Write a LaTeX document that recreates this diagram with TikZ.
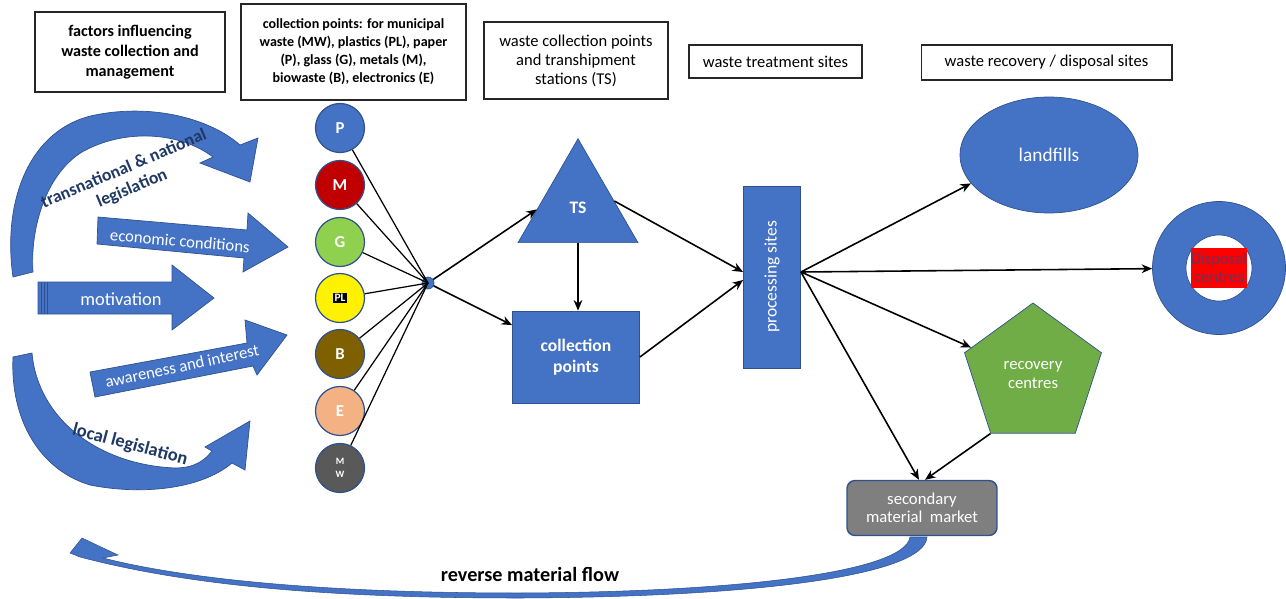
\documentclass[tikz,border=0pt]{standalone}
\usepackage{fontspec}
\setmainfont{Carlito}
\usetikzlibrary{arrows.meta,shapes.geometric,calc}
\definecolor{offblue}{HTML}{4472C4}
\definecolor{edgeblue}{HTML}{2F528F}
\definecolor{navy}{HTML}{1F3864}
\definecolor{binred}{HTML}{C00000}
\definecolor{glassgreen}{HTML}{8FD14F}
\definecolor{biobrown}{HTML}{7F6000}
\definecolor{peach}{HTML}{F4B183}
\definecolor{mwgrey}{HTML}{595959}
\definecolor{recgreen}{HTML}{70AD47}
\definecolor{marketgrey}{HTML}{7F7F7F}
\definecolor{plum}{HTML}{70305A}

\begin{document}
\begin{tikzpicture}[x=0.02cm, y=-0.02cm,
  head box/.style={draw=black!85, line width=0.6pt, align=center, inner sep=0pt},
  bin/.style={circle, draw=edgeblue, line width=0.7pt, minimum size=0.98cm, inner sep=0pt, text=white, font=\bfseries\fontsize{9.5}{10}\selectfont},
  block/.style={fill=offblue, draw=edgeblue, line width=0.5pt},
  flow/.style={-{Stealth[length=6pt,width=5pt]}, line width=0.9pt},
  spoke/.style={line width=0.7pt},
  side text/.style={text=white, font=\fontsize{9.5}{11}\selectfont},
  lobby text/.style={text=navy, font=\bfseries\fontsize{10}{12}\selectfont, align=center}]

\useasboundingbox (0,0) rectangle (1286,599);

\node[head box, minimum width=3.8cm, minimum height=1.6cm, font=\bfseries\fontsize{9.2}{11.3}\selectfont] (factors) at (130,52) {factors influencing\\waste collection and\\management};
\node[head box, minimum width=4.5cm, minimum height=1.92cm, font=\bfseries\fontsize{8}{10.2}\selectfont] (bins) at (353.5,52) {collection points: for municipal\\waste (MW), plastics (PL), paper\\(P), glass (G), metals (M),\\biowaste (B), electronics (E)};
\node[head box, minimum width=3.68cm, minimum height=1.54cm, font=\fontsize{9.4}{10.8}\selectfont] (stations) at (576,60.5) {waste collection points\\and transhipment\\stations (TS)};
\node[head box, minimum width=3.46cm, minimum height=0.66cm, font=\fontsize{9.4}{10.8}\selectfont] (treatment) at (775.5,61.5) {waste treatment sites};
\node[head box, minimum width=5.02cm, minimum height=0.7cm, font=\fontsize{9.4}{10.8}\selectfont] (recovery) at (1046.5,62.5) {waste recovery / disposal sites};

\fill[offblue, draw=edgeblue, line width=0.4pt] (13,277) .. controls (2,200) and (30,128) .. (95,115) .. controls (155,103) and (212,120) .. (240,145) -- (258,138) -- (250,182) -- (200,163) -- (213,157) .. controls (180,132) and (125,128) .. (82,152) .. controls (45,175) and (30,230) .. (33,272) -- cycle;
\fill[offblue, draw=edgeblue, line width=0.4pt] (98,217) -- (247,230) -- (248,213) -- (288,247) -- (243,272) -- (244,258) -- (97,244) -- cycle;
\fill[offblue, draw=edgeblue, line width=0.4pt] (38,282) -- (172,282) -- (172,265) -- (214,298) -- (172,330) -- (172,314) -- (38,314) -- cycle;
\foreach \x in {41,44,47}
  \draw[edgeblue, line width=0.5pt] (\x,282) -- (\x,314);
\fill[offblue, draw=edgeblue, line width=0.4pt] (90,372) -- (247,343) -- (245,320) -- (287,335) -- (257,375) -- (253,366) -- (95,397) -- cycle;
\fill[offblue, draw=edgeblue, line width=0.4pt] (32,353) .. controls (38,420) and (100,465) .. (175,468) .. controls (195,468) and (205,460) .. (212,451) -- (205,447) -- (250,421) -- (245,470) -- (232,463) .. controls (200,490) and (140,495) .. (90,485) .. controls (40,470) and (10,420) .. (13,357) -- cycle;

\node[lobby text, rotate=23] (national) at (128,179) {transnational \& national\\legislation};
\node[side text] (economic) at (180,241) [rotate=-5] {economic conditions};
\node[side text, font=\fontsize{10.5}{12}\selectfont] (motivation) at (121,299) {motivation};
\node[side text, rotate=12] (awareness) at (182,366) {awareness and interest};
\node[lobby text, font=\bfseries\fontsize{10.5}{12}\selectfont, rotate=-15] (local) at (130,445) {local legislation};

\node[bin, fill=offblue] (P) at (340,128) {P};
\node[bin, fill=binred] (M) at (340,185) {M};
\node[bin, fill=glassgreen] (G) at (340,242) {G};
\node[bin, fill=yellow] (PL) at (340,298) {\fboxsep=1pt\colorbox{black}{\fontsize{6.5}{6.5}\selectfont PL}};
\node[bin, fill=biobrown] (B) at (340,354) {B};
\node[bin, fill=peach] (E) at (340,411) {E};
\node[bin, fill=mwgrey, font=\bfseries\fontsize{5.5}{7}\selectfont, align=center] (MW) at (340,468) {M\\W};

\node[circle, fill=offblue, draw=edgeblue, minimum size=0.24cm, inner sep=0pt] (hub) at (428,283) {};
\foreach \b in {P,M,G,PL,B,E,MW}
  \draw[spoke] (\b) -- (hub.center);

\node[regular polygon, regular polygon sides=3, minimum size=2.77cm, inner sep=0pt, fill=offblue, draw=edgeblue, text=white, font=\bfseries\fontsize{10}{12}\selectfont] (TS) at (578,208) {TS};
\node[block, minimum width=2.54cm, minimum height=1.84cm, text=white, align=center, font=\bfseries\fontsize{10}{12}\selectfont] (coll) at (576,357) {collection\\points};
\node[block, minimum width=1.14cm, minimum height=3.64cm] (proc) at (772,277) {};
\node[rotate=90, text=white, font=\fontsize{10}{12}\selectfont] (proclabel) at (proc) {processing sites};

\node[ellipse, fill=offblue, draw=edgeblue, minimum width=3.56cm, minimum height=2.32cm, text=white, font=\fontsize{11}{13}\selectfont] (landfill) at (1049,155) {landfills};
\node[circle, fill=offblue, draw=edgeblue, minimum size=2.66cm, inner sep=0pt] (disp) at (1219,268) {};
\node[circle, fill=white, draw=edgeblue, minimum size=1.32cm, inner sep=0pt] (hole) at (disp) {};
\node[fill=red, inner sep=0pt, minimum width=1.1cm, minimum height=0.8cm, text=plum, align=center, font=\fontsize{9.5}{10.5}\selectfont] (displabel) at (disp) {Disposal\\centres};
\node[regular polygon, regular polygon sides=5, minimum size=2.88cm, inner sep=0pt, fill=recgreen, draw=edgeblue, text=white, align=center, font=\fontsize{9.5}{11.3}\selectfont] (recov) at (1033,375) {recovery\\centres};
\node[rounded corners=0.16cm, fill=marketgrey, draw=edgeblue, line width=0.8pt, minimum width=3.0cm, minimum height=1.1cm, text=white, align=center, font=\fontsize{9.5}{10.5}\selectfont] (market) at (922,508) {secondary\\material\ \ market};

\coordinate (fan) at ([yshift=0.1cm]proc.east);

\draw[flow] (hub) -- ($(TS.corner 1)!0.68!(TS.corner 2)$);
\draw[flow] (hub) -- (coll);
\draw[flow] (TS.south) -- (TS.south |- coll.north);
\draw[flow] ($(TS.corner 1)!0.6!(TS.corner 3)$) -- ([yshift=0.1cm]proc.west);
\draw[flow] (coll.east) -- ([yshift=-0.06cm]proc.west);

\draw[flow] (fan) -- (landfill.200);
\draw[flow] (fan) -- (disp);
\draw[flow] (fan) -- (recov);
\draw[flow] (fan) -- ([xshift=-0.06cm]market.north);
\draw[flow] (recov.corner 3) -- ([xshift=0.06cm]market.north);

\fill[offblue, draw=edgeblue, line width=0.3pt] (927,537) .. controls (925,575) and (760,597) .. (520,598) .. controls (330,598) and (190,586) .. (80,557) -- (70,553) -- (82,538) -- (118,555) -- (103,558) .. controls (190,580) and (330,593) .. (520,593) .. controls (740,592) and (905,572) .. (910,537) -- cycle;
\node[font=\bfseries\fontsize{11.5}{13}\selectfont] (reverse) at (530,574) {reverse material flow};

\end{tikzpicture}
\end{document}
